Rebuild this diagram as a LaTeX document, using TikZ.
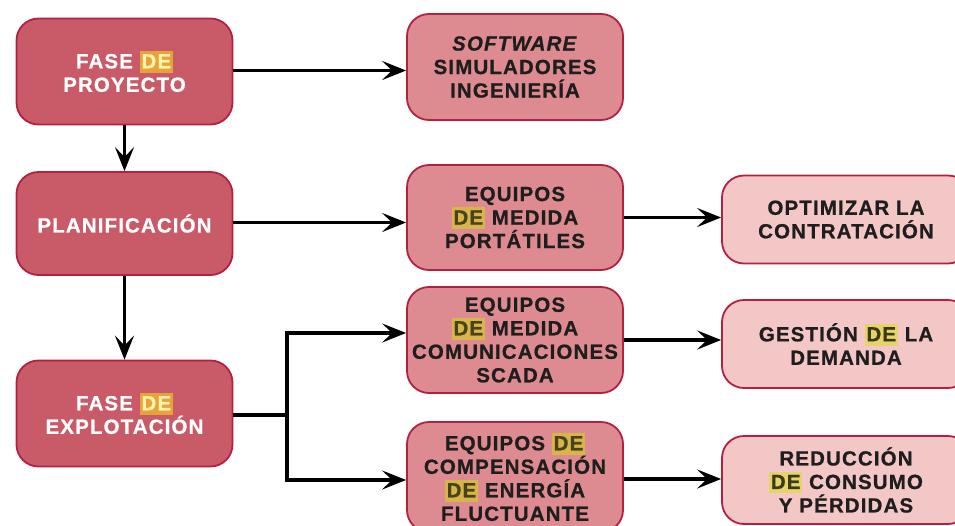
\documentclass[tikz,border=0pt]{standalone}
\usepackage{fontspec}
\setmainfont{Liberation Sans}
\usetikzlibrary{arrows.meta}

\definecolor{edge}{HTML}{B42040}
\definecolor{phasefill}{HTML}{C95B68}
\definecolor{toolfill}{HTML}{DD8B91}
\definecolor{goalfill}{HTML}{F3C7C5}
\definecolor{inktext}{HTML}{1E1E1E}
\definecolor{hlLbg}{HTML}{E8A23C}
\definecolor{hlLfg}{HTML}{FFF4A8}
\definecolor{hlMbg}{HTML}{D8B44A}
\definecolor{hlMfg}{HTML}{45441A}
\definecolor{hlRbg}{HTML}{E6D46A}
\definecolor{hlRfg}{HTML}{3A3A14}

% highlighted words inside the boxes
\newcommand{\hlPhase}[1]{{\setlength{\fboxsep}{1.8pt}\colorbox{hlLbg}{\rule[-2.5pt]{0pt}{18pt}\textcolor{hlLfg}{#1}}}}
\newcommand{\hlTool}[1]{{\setlength{\fboxsep}{1.8pt}\colorbox{hlMbg}{\rule[-2.5pt]{0pt}{18pt}\textcolor{hlMfg}{#1}}}}
\newcommand{\hlGoal}[1]{{\setlength{\fboxsep}{1.8pt}\colorbox{hlRbg}{\rule[-2.5pt]{0pt}{18pt}\textcolor{hlRfg}{#1}}}}

\tikzset{
  box/.style={draw=edge, line width=1.8pt, rounded corners=22pt, align=center,
    inner sep=0pt,
    font=\fontsize{20.5}{23.5}\selectfont\bfseries\addfontfeature{LetterSpace=5.5,FakeBold=0.8}},
  phase/.style={box, fill=phasefill, text=white, minimum width=216pt, minimum height=106pt},
  tool/.style={box, fill=toolfill, text=inktext, minimum width=216pt, minimum height=106pt},
  goal/.style={box, fill=goalfill, text=inktext, minimum width=248pt, minimum height=88pt},
  arr/.style={line width=3.6pt, -{Stealth[length=24pt, width=19pt, inset=10pt]}},
  link/.style={line width=3.6pt}
}

\begin{document}
\begin{tikzpicture}[x=1pt, y=-1pt]
  \useasboundingbox (0,0) rectangle (955,525);
  \clip (0,0) rectangle (955,525);

  % project phases
  \node[phase] (proy) at (124.5,71.5) {FASE \hlPhase{DE}\\PROYECTO};
  \node[phase, minimum height=103pt] (plan) at (124.5,223.5) {PLANIFICACIÓN};
  \node[phase] (expl) at (124.5,413.5) {FASE \hlPhase{DE}\\EXPLOTACIÓN};

  % tools
  \node[tool] (soft) at (515,67) {\textit{SOFTWARE}\\SIMULADORES\\INGENIERÍA};
  \node[tool, minimum height=105pt] (port) at (515,217.5) {EQUIPOS\\\hlTool{DE} MEDIDA\\PORTÁTILES};
  \node[tool] (scada) at (515,340) {EQUIPOS\\\hlTool{DE} MEDIDA\\COMUNICACIONES\\SCADA};
  \node[tool, minimum height=110pt] (comp) at (515,477) {EQUIPOS \hlTool{DE}\\COMPENSACIÓN\\\hlTool{DE} ENERGÍA\\FLUCTUANTE};

  % goals
  \node[goal] (opt) at (846,219.5) {OPTIMIZAR LA\\CONTRATACIÓN};
  \node[goal] (gest) at (846,344) {GESTIÓN \hlGoal{DE} LA\\DEMANDA};
  \node[goal] (red) at (846,480) {REDUCCIÓN\\\hlGoal{DE} CONSUMO\\Y PÉRDIDAS};

  % phase sequence
  \draw[arr] (proy) -- (plan);
  \draw[arr] (plan) -- (expl);

  % phase to tools
  \draw[arr] ([yshift=1pt]proy.east) -- ([yshift=1pt]proy.east -| soft.west);
  \draw[arr] ([yshift=1pt]plan.east) -- ([yshift=1pt]plan.east -| port.west);

  % operation phase branches to two tool groups
  \coordinate (fork) at (287,415);
  \draw[link] ([yshift=-1.5pt]expl.east) -- (fork);
  \draw[arr] (fork) |- ([yshift=7pt]scada.west);
  \draw[arr] (fork) |- ([yshift=-3pt]comp.west);

  % tools to goals
  \draw[arr] (port.east) -- (port.east -| opt.west);
  \draw[arr] (scada.east) -- (scada.east -| gest.west);
  \draw[arr] ([yshift=-2pt]comp.east) -- ([yshift=-2pt]comp.east -| red.west);
\end{tikzpicture}
\end{document}
